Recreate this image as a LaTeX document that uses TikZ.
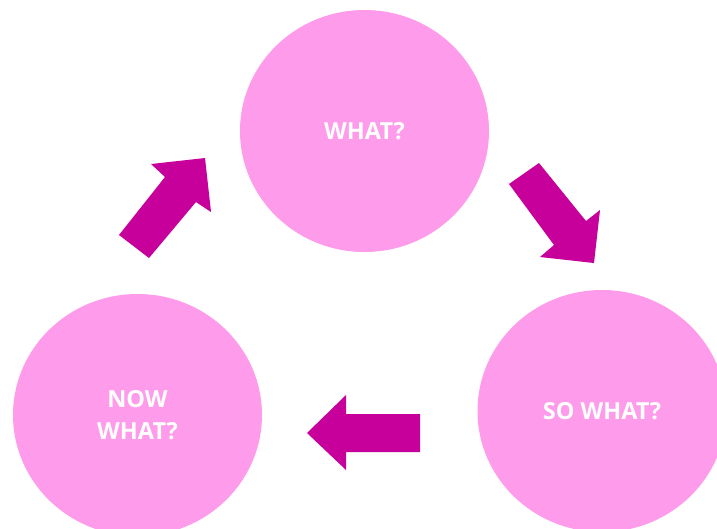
\documentclass[tikz,border=0pt]{standalone}
\usepackage{fontspec}
\setmainfont{Open Sans}
\usetikzlibrary{shapes.geometric}
\definecolor{circpink}{HTML}{FE9BEB}
\definecolor{arrmag}{HTML}{C8009B}
\begin{document}
\begin{tikzpicture}[x=1pt,y=-1pt,
  circ/.style={ellipse, fill=circpink, draw=none, minimum width=249pt, minimum height=242pt, inner sep=0pt},
  lbl/.style={text=white, font=\fontsize{23.5}{32}\selectfont\bfseries, align=center},
  blockarrow/.style={fill=arrmag, draw=none}]
\useasboundingbox (0,0) rectangle (717,528);
\clip (0,0) rectangle (717,528);
\node[circ] (what) at (364.5,131) {};
\node[circ] (sowhat) at (602,411) {};
\node[circ] (nowwhat) at (137.5,415) {};
\node[lbl] (t1) at (what) {WHAT?};
\node[lbl] (t2) at (sowhat) {SO WHAT?};
\node[lbl] (t3) at (nowwhat) {NOW\\WHAT?};
% arrow up-right
\fill[blockarrow] (205,158) -- (211,212) -- (196,202) -- (149,258) -- (119,235) -- (165,177) -- (151,164) -- cycle;
% arrow down-right
\fill[blockarrow] (594,263) -- (540,257) -- (554,245) -- (509,184) -- (539,163) -- (586,221) -- (600,210) -- cycle;
% arrow left
\fill[blockarrow] (307,433) -- (346,395) -- (346,414) -- (420,414) -- (420,452) -- (346,452) -- (346,470) -- cycle;
\end{tikzpicture}
\end{document}
